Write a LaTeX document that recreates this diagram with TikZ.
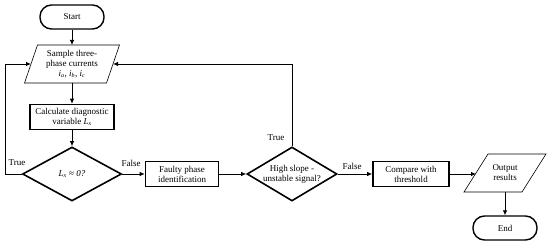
\documentclass[tikz,border=0pt]{standalone}
\usepackage{fontspec}
\setmainfont{Liberation Serif}
\usetikzlibrary{shapes.geometric,arrows.meta}
\newcommand\Lvar{\textit{L}\textsubscript{\textit{x}}}
\begin{document}
\begin{tikzpicture}[x=1pt,y=-1pt,
  every node/.style={font=\fontsize{9}{10}\selectfont, align=center, inner sep=0pt},
  term/.style={draw, line width=1.4pt, rounded corners=11.5pt, minimum width=64pt, minimum height=24pt},
  procbox/.style={draw, line width=1.6pt, minimum height=25pt},
  ioline/.style={draw, line width=0.6pt, line join=miter},
  decide/.style={draw, line width=1.6pt, diamond, minimum height=54pt},
  conn/.style={line width=0.8pt, -{Latex[length=5pt,width=4.5pt]}},
  lbl/.style={font=\fontsize{9}{10}\selectfont}
]
\useasboundingbox (0,0) rectangle (550,246);
\node[term] (start) at (72,17) {Start};
% Sample parallelogram
\coordinate (sBL) at (24.5,83); \coordinate (sBR) at (106.5,83);
\coordinate (sTR) at (119.5,45); \coordinate (sTL) at (37.5,45);
\draw[ioline] (sBL) -- (sBR) -- (sTR) -- (sTL) -- cycle;
\node (sample) at (72,64) {Sample three-\\phase currents\\\textit{i}\textsubscript{\textit{a}}, \textit{i}\textsubscript{\textit{b}}, \textit{i}\textsubscript{\textit{c}}};
\coordinate (sTop) at (72,45); \coordinate (sBot) at (72,83);
\coordinate (sW) at (31,64); \coordinate (sE) at (113,64);
\node[procbox, minimum width=84pt] (calc) at (72,117) {Calculate diagnostic\\variable \Lvar};
\node[decide, minimum width=99pt] (d1) at (72,174) {};
\node (d1t) at (d1) {\Lvar{} ≈ \textit{0?}};
\node[procbox, minimum width=73pt] (faulty) at (182,174) {Faulty phase\\identification};
\node[decide, minimum width=90pt] (d2) at (292,174) {};
\node (d2t) at (d2) {High slope -\\unstable signal?};
\node[procbox, minimum width=76pt] (comp) at (411,174) {Compare with\\threshold};
% Output parallelogram
\coordinate (oBL) at (464,192); \coordinate (oBR) at (522,192);
\coordinate (oTR) at (546,154); \coordinate (oTL) at (488,154);
\draw[ioline] (oBL) -- (oBR) -- (oTR) -- (oTL) -- cycle;
\node (out) at (505,173) {Output\\results};
\coordinate (oW) at (476,174); \coordinate (oBot) at (505,192);
\node[term] (end) at (505,228) {End};

\draw[conn] (start) -- (sTop);
\draw[conn] (sBot) -- (calc);
\draw[conn] (calc) -- (d1);
\draw[conn] (d1) -- (faulty);
\draw[conn] (faulty) -- (d2);
\draw[conn] (d2) -- (comp);
\draw[conn] (comp) -- (oW);
\draw[conn] (oBot) -- (end);
\coordinate (loopL) at (5,174);
\coordinate (loopT) at (292,64);
\draw[conn] (d1.west) -- (loopL) |- (sW);
\draw[conn] (d2.north) -- (loopT) -- (sE);

\node[lbl] (t1) at (17,163) {True};
\node[lbl] (f1) at (131,163) {False};
\node[lbl] (t2) at (276,138) {True};
\node[lbl] (f2) at (352,166) {False};
\end{tikzpicture}
\end{document}
